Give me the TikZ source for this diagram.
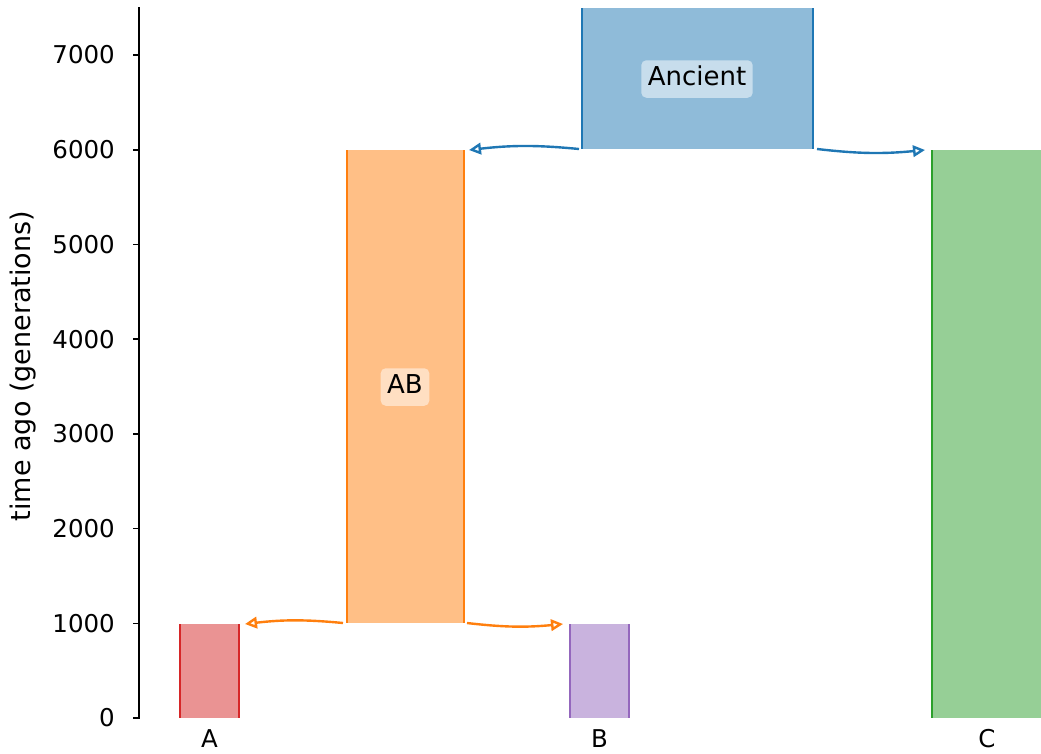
\documentclass[tikz,border=0pt]{standalone}
\usepackage{fontspec}
\setmainfont{DejaVu Sans}
\usetikzlibrary{arrows.meta}
\definecolor{tabblue}{HTML}{1F77B4}
\definecolor{taborange}{HTML}{FF7F0E}
\definecolor{tabgreen}{HTML}{2CA02C}
\definecolor{tabred}{HTML}{D62728}
\definecolor{tabpurple}{HTML}{9467BD}
\newcommand{\plotfont}{\fontsize{24.5}{29}\selectfont}
\tikzset{
  deme/.style={anchor=north west, inner sep=0pt, outer sep=0pt, draw=none,
    fill=#1!50!white},
  side/.style={line width=2.2pt, #1},
  mig/.style={line width=2.4pt, #1, bend right=6,
    -{Triangle[open, length=12pt, width=11.5pt]}},
  tag/.style={fill=white, fill opacity=0.5, text opacity=1, rounded corners=5pt,
    inner xsep=6.5pt, inner ysep=7pt, text height=18.5pt, text depth=5pt,
    font=\fontsize{26}{31}\selectfont},
  ticklab/.style={anchor=east, font=\plotfont, inner sep=0pt},
  deme label/.style={font=\plotfont, inner sep=0pt}
}
\begin{document}
\begin{tikzpicture}[x=1pt, y=-1pt]
\useasboundingbox (0,0) rectangle (1041,753);

% populations (time runs upward: 1000 generations = 94.71 units)
\node[deme=tabblue,   minimum width=231pt, minimum height=141pt] (anc) at (582,8) {};
\node[deme=taborange, minimum width=117pt, minimum height=473pt] (ab)  at (347,150) {};
\node[deme=tabred,    minimum width=59pt,  minimum height=94pt]  (a)   at (180,624) {};
\node[deme=tabpurple, minimum width=59pt,  minimum height=94pt]  (b)   at (570,624) {};
\node[deme=tabgreen,  minimum width=109pt, minimum height=568pt] (c)   at (932,150) {};

% side edges of each population
\foreach \n/\col in {anc/tabblue, ab/taborange, a/tabred, b/tabpurple} {
  \draw[side=\col] (\n.north west) -- (\n.south west);
  \draw[side=\col] (\n.north east) -- (\n.south east);
}
\draw[side=tabgreen] (c.north west) -- (c.south west);

% ancestry arrows
\draw[mig=tabblue]   ([xshift=-3pt]anc.south west) to ([xshift=5pt]ab.north east);
\draw[mig=tabblue]   ([xshift=4pt]anc.south east)  to ([xshift=-7pt]c.north west);
\draw[mig=taborange] ([xshift=-4pt]ab.south west)  to ([xshift=6pt]a.north east);
\draw[mig=taborange] ([xshift=3pt]ab.south east)   to ([xshift=-7pt]b.north west);

% population names
\node[tag] (ancname) at (697,79) {Ancient};
\node[tag] (abname)  at (405,387) {AB};

% y axis
\coordinate (ytop) at (139,8);
\coordinate (ybot) at (139,718);
\draw[line width=1.6pt, line cap=rect] (ytop) -- (ybot);
\foreach \t in {0,1000,...,7000} {
  \coordinate (tk\t) at (139,{718-0.09471*\t});
  \draw[line width=1.6pt] (tk\t) -- ++(-6,0);
  \node[ticklab] at ([xshift=-24pt]tk\t) {\t};
}
\node[rotate=90, font=\fontsize{27}{32}\selectfont] (ylab) at (23,366) {time ago (generations)};

% leaf labels
\node[deme label] (la) at (a.south |- 0,739) {A};
\node[deme label] (lb) at (b.south |- 0,739) {B};
\node[deme label] (lc) at (987,739) {C};
\end{tikzpicture}
\end{document}
